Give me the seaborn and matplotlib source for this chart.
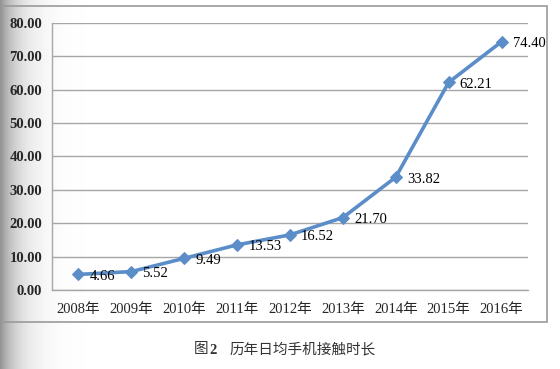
import numpy as np
import pandas as pd
import seaborn as sns
import matplotlib.pyplot as plt
from matplotlib.patches import Rectangle
from matplotlib.ticker import FixedLocator, FuncFormatter

# data
years = ['2008年', '2009年', '2010年', '2011年', '2012年', '2013年', '2014年', '2015年', '2016年']
hours = [4.66, 5.52, 9.49, 13.53, 16.52, 21.70, 33.82, 62.21, 74.40]
yticks = [0, 10, 20, 30, 40, 50, 60, 70, 80]
fig_word = '图'
fig_num = '2'
caption = '历年日均手机接触时长'

# colors
blue = '#5B8DC8'
grid_gray = '#A6A6A6'

sns.set_style('white')
plt.rcParams['font.family'] = ['Liberation Serif', 'Noto Sans CJK SC']

W, H = 560, 369
fig = plt.figure(figsize=(5.6, 3.69), dpi=100)

# background with grey shading on the left
bg = fig.add_axes([0, 0, 1, 1], zorder=-2)
xs = np.arange(W)
shade = 1 - 0.42 * np.exp(-xs / 18.0)
img = np.tile(shade, (H, 1))
bg.imshow(img, cmap='gray', vmin=0, vmax=1, aspect='auto', extent=[0, W, H, 0])
bg.add_patch(Rectangle((2, 6), 545, 316, fill=False, edgecolor='#9A9A9A', lw=1.2))
bg.set_xlim(0, W)
bg.set_ylim(H, 0)
bg.axis('off')

# main plot area
ax = fig.add_axes([52 / W, 1 - 290 / H, (528 - 52) / W, (290 - 23) / H])
ax.patch.set_alpha(0)
df = pd.DataFrame({'year': years, 'hours': hours})
sns.lineplot(data=df, x='year', y='hours', ax=ax, color=blue, lw=2.6,
             marker='D', markersize=6.5, markeredgecolor=blue, zorder=3)

for i, v in enumerate(hours):
    ax.annotate(f'{v:.2f}', (i, v), xytext=(8, -1.5), textcoords='offset points',
                ha='left', va='center', fontsize=10.5, color='black')

ax.set_xlim(-0.5, len(years) - 0.5)
ax.set_ylim(0, 80)
ax.set_yticks(yticks)
ax.yaxis.set_major_formatter(FuncFormatter(lambda v, p: f'{v:.2f}'))
ax.yaxis.grid(True, color=grid_gray, lw=1)
ax.xaxis.grid(False)
ax.set_xlabel('')
ax.set_ylabel('')

# category ticks: labels at centers, marks at boundaries
ax.set_xticks(range(len(years)))
ax.set_xticklabels(years)
ax.xaxis.set_minor_locator(FixedLocator(np.arange(-0.5, len(years), 1)))
ax.tick_params(axis='x', which='major', length=0, pad=9, labelsize=10.5)
ax.tick_params(axis='x', which='minor', length=4, color=grid_gray, width=1, direction='out')
ax.tick_params(axis='y', length=3, color=grid_gray, width=1, direction='out', pad=4, labelsize=10.5)
for lab in ax.get_yticklabels():
    lab.set_fontweight('bold')

for s in ['top', 'right']:
    ax.spines[s].set_visible(False)
for s in ['left', 'bottom']:
    ax.spines[s].set_color(grid_gray)
    ax.spines[s].set_linewidth(1)

# caption below the chart box
fig.text(208 / W, 1 - 350 / H, fig_word, ha='right', va='center', fontsize=10.5, color='#333333')
fig.text(209 / W, 1 - 350 / H, fig_num, ha='left', va='center', fontsize=10.5,
         fontweight='bold', color='#333333')
fig.text(230 / W, 1 - 350 / H, caption, ha='left', va='center', fontsize=10.5, color='#333333')

fig.savefig('out.png', dpi=100)
